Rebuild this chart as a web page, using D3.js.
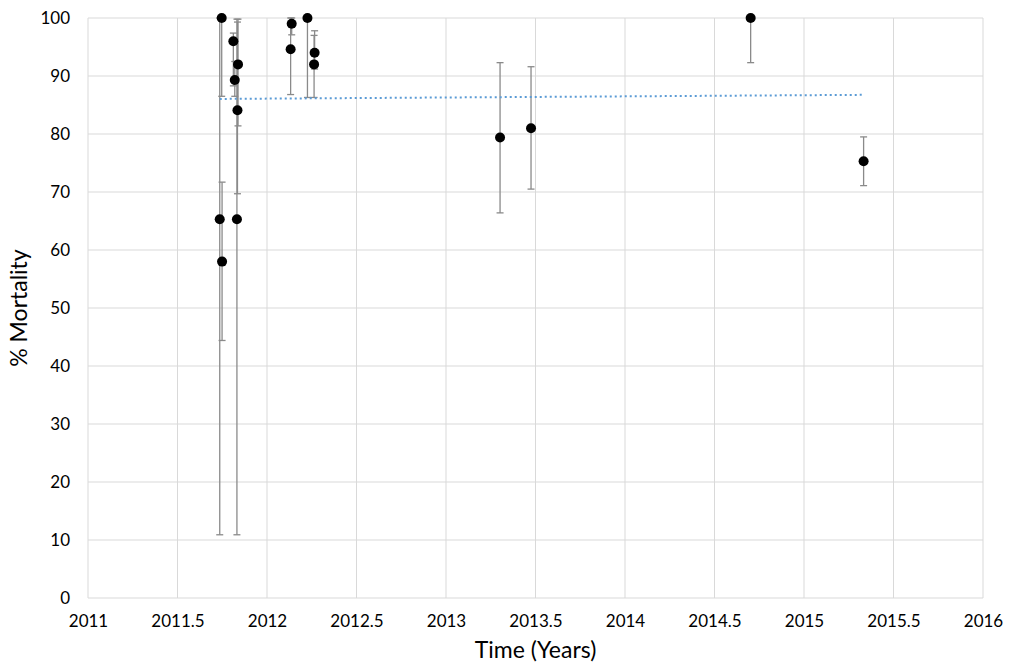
<!DOCTYPE html>
<html>
<head>
<meta charset="utf-8">
<title>Mortality over time</title>
<script src="https://d3js.org/d3.v7.min.js"></script>
<style>
  body { margin: 0; background: #fff; }
  text { font-family: Lato, "Open Sans", sans-serif; fill: #000; }
</style>
</head>
<body>
<script>
// data
var years  = [2011.736, 2011.747, 2011.749, 2011.812, 2011.838, 2011.820, 2011.835, 2011.832,
              2012.138, 2012.132, 2012.226, 2012.266, 2012.263, 2013.302, 2013.475, 2014.702, 2015.333];
var mort   = [65.3, 100, 58, 96, 92, 89.3, 84.1, 65.3,
              99, 94.6, 100, 94, 92, 79.4, 81, 100, 75.3];
var errLow = [10.9, 86.5, 44.4, 88.3, 81.4, 86.5, 69.7, 10.9,
              97.1, 86.8, 86.3, 91.2, 86.3, 66.4, 70.5, 92.3, 71.1];
var errHigh= [100, 100, 71.7, 97.4, 99.8, 92.5, 99.3, 99.8,
              100, 100, 100, 97.8, 97.0, 92.3, 91.6, 100, 79.5];
var xTicks = [2011, 2011.5, 2012, 2012.5, 2013, 2013.5, 2014, 2014.5, 2015, 2015.5, 2016];
var yTicks = [0, 10, 20, 30, 40, 50, 60, 70, 80, 90, 100];

var W = 1009, H = 672;
var m = {left: 88, right: 26, top: 18, bottom: 74};

var svg = d3.select("body").append("svg")
    .attr("width", W).attr("height", H);

var x = d3.scaleLinear().domain([2011, 2016]).range([m.left, W - m.right]);
var y = d3.scaleLinear().domain([0, 100]).range([H - m.bottom, m.top]);

// gridlines
svg.append("g").selectAll("line.h").data(yTicks).enter().append("line")
    .attr("x1", x(2011)).attr("x2", x(2016))
    .attr("y1", d => y(d)).attr("y2", d => y(d))
    .attr("stroke", "#d9d9d9").attr("stroke-width", 1);
svg.append("g").selectAll("line.v").data(xTicks).enter().append("line")
    .attr("x1", d => x(d)).attr("x2", d => x(d))
    .attr("y1", y(0)).attr("y2", y(100))
    .attr("stroke", "#d9d9d9").attr("stroke-width", 1);

// tick labels via axes, lines hidden
var yAxis = svg.append("g").attr("transform", "translate(" + (m.left - 18) + ",0)")
    .call(d3.axisLeft(y).tickValues(yTicks).tickSize(0).tickPadding(0));
var xAxis = svg.append("g").attr("transform", "translate(0," + (y(0) + 17) + ")")
    .call(d3.axisBottom(x).tickValues(xTicks).tickSize(0).tickPadding(0).tickFormat(d3.format("")));
[yAxis, xAxis].forEach(function (a) {
  a.select(".domain").remove();
  a.selectAll("text").style("font-size", "17px").attr("fill", "#000")
    .style("font-family", "Lato, 'Open Sans', sans-serif");
});

// error bars
var cap = 3.5;
var eb = svg.append("g").attr("stroke", "#8a8a8a").attr("stroke-width", 1.3);
years.forEach(function (yr, i) {
  var cx = x(yr);
  var hi = Math.min(errHigh[i], 100);
  eb.append("line").attr("x1", cx).attr("x2", cx)
    .attr("y1", y(errLow[i])).attr("y2", y(hi));
  eb.append("line").attr("x1", cx - cap).attr("x2", cx + cap)
    .attr("y1", y(errLow[i])).attr("y2", y(errLow[i]));
  eb.append("line").attr("x1", cx - cap).attr("x2", cx + cap)
    .attr("y1", y(hi)).attr("y2", y(hi));
});

// linear trendline (least squares)
var mx = d3.mean(years), my = d3.mean(mort);
var sxy = d3.sum(years, (v, i) => (v - mx) * (mort[i] - my));
var sxx = d3.sum(years, v => (v - mx) * (v - mx));
var slope = sxy / sxx, icpt = my - slope * mx;
var x0 = d3.min(years), x1 = d3.max(years);
svg.append("line")
    .attr("x1", x(x0)).attr("x2", x(x1))
    .attr("y1", y(icpt + slope * x0)).attr("y2", y(icpt + slope * x1))
    .attr("stroke", "#5b9bd5").attr("stroke-width", 2)
    .attr("stroke-dasharray", "2,3");

// points
svg.append("g").selectAll("circle").data(years).enter().append("circle")
    .attr("cx", d => x(d)).attr("cy", (d, i) => y(mort[i]))
    .attr("r", 5).attr("fill", "#000");

// axis titles
svg.append("text").attr("x", (x(2011) + x(2016)) / 2).attr("y", 658)
    .attr("text-anchor", "middle").style("font-size", "23px").text("Time (Years)");
svg.append("text").attr("transform", "translate(27," + ((y(0) + y(100)) / 2) + ") rotate(-90)")
    .attr("text-anchor", "middle").style("font-size", "23px").text("% Mortality");
</script>
</body>
</html>
